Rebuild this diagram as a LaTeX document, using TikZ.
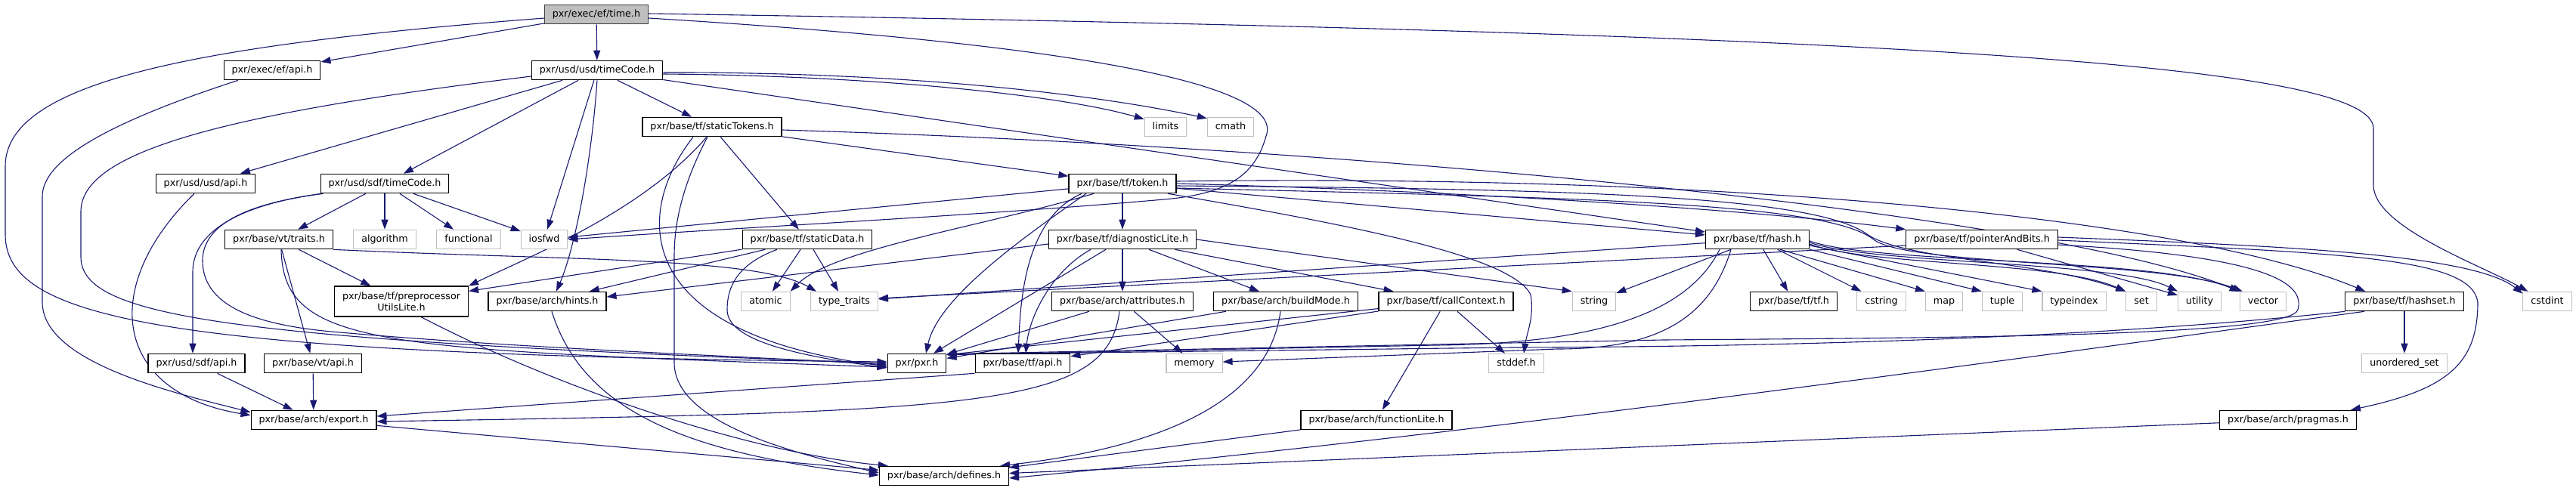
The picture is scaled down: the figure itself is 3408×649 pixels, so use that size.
\documentclass[tikz,border=0pt]{standalone}
\usepackage{fontspec}
\setmainfont{DejaVu Sans}
\usetikzlibrary{arrows.meta}
\pgfdeclarelayer{bg}
\pgfsetlayers{bg,main}
\definecolor{edgecol}{HTML}{191970}
\definecolor{syscol}{HTML}{BFBFBF}
\definecolor{rootfill}{HTML}{BFBFBF}
\definecolor{rootdraw}{HTML}{404040}
\newcommand\gfsz{\fontsize{12.7pt}{15pt}\selectfont}
\begin{document}
\begin{tikzpicture}[x=1pt,y=-1pt,
 base/.style={draw=black, line width=1.1pt, fill=white, font=\gfsz, inner xsep=10.5pt, inner ysep=0pt},
 nd/.style={base, minimum height=25.5pt, text height=9.6pt, text depth=2.7pt},
 sys/.style={nd, draw=syscol},
 rootnd/.style={nd, fill=rootfill, draw=rootdraw},
 inc/.style={draw=edgecol, line width=1.1pt, -{Triangle[length=13pt,width=9pt]}},
]
\useasboundingbox (0,0) rectangle (3408,649);
% nodes
\node[rootnd] (root) at (789,19) {pxr/exec/ef/time.h};
\node[nd] (efapi) at (360,93) {pxr/exec/ef/api.h};
\node[nd] (usdtc) at (790,93) {pxr/usd/usd/timeCode.h};
\node[nd] (sttok) at (942,168) {pxr/base/tf/staticTokens.h};
\node[sys] (limits) at (1542,168) {limits};
\node[sys] (cmath) at (1628,168) {cmath};
\node[nd] (usdapi) at (272,243) {pxr/usd/usd/api.h};
\node[nd] (sdftc) at (509,243) {pxr/usd/sdf/timeCode.h};
\node[nd] (token) at (1485,243) {pxr/base/tf/token.h};
\node[nd] (traits) at (369,317) {pxr/base/vt/traits.h};
\node[sys] (algorithm) at (509,317) {algorithm};
\node[sys] (functional) at (620,317) {functional};
\node[sys] (iosfwd) at (720,317) {iosfwd};
\node[nd] (stdata) at (1068,317) {pxr/base/tf/staticData.h};
\node[nd] (diag) at (1485,317) {pxr/base/tf/diagnosticLite.h};
\node[nd] (hash) at (2325,317) {pxr/base/tf/hash.h};
\node[nd] (pab) at (2622,317) {pxr/base/tf/pointerAndBits.h};
\node[base, minimum height=40pt, align=center] (pul) at (531,399) {pxr/base/tf/preprocessor\\UtilsLite.h};
\node[nd] (hints) at (724,399) {pxr/base/arch/hints.h};
\node[sys] (atomic) at (1013,399) {atomic};
\node[sys] (typetraits) at (1117,399) {type\_traits};
\node[nd] (attr) at (1485,399) {pxr/base/arch/attributes.h};
\node[nd] (build) at (1701,399) {pxr/base/arch/buildMode.h};
\node[nd] (callctx) at (1913,399) {pxr/base/tf/callContext.h};
\node[sys] (string) at (2109,399) {string};
\node[nd] (tftf) at (2373,399) {pxr/base/tf/tf.h};
\node[sys] (cstring) at (2489,399) {cstring};
\node[sys] (map) at (2572,399) {map};
\node[sys] (tuple) at (2649,399) {tuple};
\node[sys] (typeindex) at (2744,399) {typeindex};
\node[sys] (set) at (2833,399) {set};
\node[sys] (utility) at (2910,399) {utility};
\node[sys] (vector) at (2994,399) {vector};
\node[nd] (hashset) at (3181,399) {pxr/base/tf/hashset.h};
\node[sys] (cstdint) at (3370,399) {cstdint};
\node[nd] (sdfapi) at (260,481) {pxr/usd/sdf/api.h};
\node[nd] (vtapi) at (414,481) {pxr/base/vt/api.h};
\node[nd] (pxrh) at (1213,481) {pxr/pxr.h};
\node[nd] (tfapi) at (1353,481) {pxr/base/tf/api.h};
\node[sys] (memory) at (1580,481) {memory};
\node[sys] (stddef) at (2006,481) {stddef.h};
\node[sys] (unordset) at (3181,481) {unordered\_set};
\node[nd] (export) at (415,556) {pxr/base/arch/export.h};
\node[nd] (funclite) at (1821,556) {pxr/base/arch/functionLite.h};
\node[nd] (pragmas) at (3027,556) {pxr/base/arch/pragmas.h};
\node[nd] (defines) at (1249,630) {pxr/base/arch/defines.h};

\begin{pgfonlayer}{bg}
\fill[white] (0,0) rectangle (3408,649);
% time.h
\draw[inc] (root) -- (efapi);
\draw[inc] (root) -- (usdtc);
\draw[inc] ([yshift=-5pt]root.west) .. controls (250,60) and (7,110) .. (7,220) -- (7,310) .. controls (7,420) and (200,470) .. ([yshift=2pt]pxrh.west);
\draw[inc] ([yshift=-5pt]root.east) .. controls (1450,60) and (1700,115) .. (1675,180) .. controls (1660,235) and (1620,257) .. (1540,264) .. controls (1300,285) and (1000,300) .. (iosfwd.east);
\draw[inc] ([yshift=1pt]root.east) .. controls (2600,45) and (3140,90) .. (3140,170) -- (3140,245) .. controls (3140,300) and (3280,350) .. ([xshift=7pt]cstdint.north west);
% ef/api.h
\draw[inc] ([xshift=-45pt]efapi.south) .. controls (150,160) and (56,210) .. (56,260) -- (56,400) .. controls (56,480) and (230,520) .. ([yshift=-3pt]export.north west);
% usd/timeCode.h
\draw[inc] ([yshift=-8pt]usdtc.west) .. controls (300,150) and (107,200) .. (107,280) -- (107,340) .. controls (107,420) and (300,450) .. (pxrh.west);
\draw[inc] (usdtc) -- (usdapi);
\draw[inc] (usdtc) -- (sdftc);
\draw[inc] (usdtc) -- (iosfwd);
\draw[inc] (usdtc.south) .. controls (782,220) and (760,330) .. ([xshift=12pt]hints.north);
\draw[inc] (usdtc) -- (sttok);
\draw[inc] ([yshift=-5pt]usdtc.east) .. controls (1150,100) and (1400,125) .. ([yshift=-3pt]limits.north west);
\draw[inc] ([yshift=-3pt]usdtc.east) .. controls (1200,95) and (1450,125) .. ([yshift=-2pt]cmath.north west);
\draw[inc] (usdtc) -- (hash);
% staticTokens.h
\draw[inc] ([xshift=-25pt]sttok.south) .. controls (840,280) and (830,440) .. ([yshift=-4pt]pxrh.west);
\draw[inc] ([xshift=-7pt]sttok.south) .. controls (850,280) and (700,340) .. (pul.north east);
\draw[inc] ([xshift=-6pt]sttok.south) .. controls (900,250) and (892,300) .. (892,340) -- (892,480) .. controls (892,560) and (1050,600) .. ([yshift=4pt]defines.west);
\draw[inc] (sttok) -- (stdata);
\draw[inc] (sttok) -- (token);
\draw[inc] ([yshift=-4pt]sttok.east) .. controls (1800,195) and (2700,280) .. (vector.north west);
% usd/api.h, sdf/timeCode.h
\draw[inc] ([xshift=-15pt]usdapi.south) .. controls (130,380) and (150,520) .. ([yshift=-7pt]export.north west);
\draw[inc] ([xshift=2pt]sdftc.south west) .. controls (310,272) and (255,310) .. (255,360) -- ([xshift=-5pt]sdfapi.north);
\draw[inc] ([xshift=4pt]sdftc.south west) .. controls (320,270) and (268,300) .. (268,345) .. controls (268,410) and (350,432) .. (450,440) .. controls (700,462) and (1000,472) .. ([yshift=-2pt]pxrh.west);
\draw[inc] (sdftc) -- (traits);
\draw[inc] (sdftc) -- (algorithm);
\draw[inc] (sdftc) -- (functional);
\draw[inc] (sdftc) -- (iosfwd);
% vt/traits.h
\draw[inc] (traits) -- (pul);
\draw[inc] (traits) -- (vtapi);
\draw[inc] ([xshift=3pt]traits.south) .. controls (375,460) and (500,462) .. ([yshift=-5pt]pxrh.west);
\draw[inc] (traits.south east) .. controls (750,345) and (1000,340) .. ([xshift=8pt]typetraits.north west);
% api headers, arch
\draw[inc] (sdfapi) -- (export);
\draw[inc] (vtapi) -- (export);
\draw[inc] ([xshift=26pt]pul.south) .. controls (750,520) and (1000,600) .. ([xshift=12pt]defines.north west);
\draw[inc] ([xshift=6pt]hints.south) .. controls (770,540) and (900,600) .. ([yshift=1pt]defines.west);
\draw[inc] (export) -- (defines);
% staticData.h
\draw[inc] (stdata) -- (pul);
\draw[inc] (stdata) -- (hints);
\draw[inc] ([xshift=-40pt]stdata.south) .. controls (975,350) and (962,380) .. (962,410) .. controls (962,450) and (1050,470) .. ([yshift=-6pt]pxrh.west);
\draw[inc] (stdata) -- (atomic);
\draw[inc] (stdata) -- (typetraits);
% token.h
\draw[inc] (token) -- (iosfwd);
\draw[inc] ([xshift=-38pt]token.south) .. controls (1300,300) and (1100,330) .. (atomic.north east);
\draw[inc] ([xshift=-48pt]token.south) .. controls (1330,330) and (1240,400) .. ([xshift=12pt]pxrh.north);
\draw[inc] ([xshift=-54pt]token.south) .. controls (1355,290) and (1350,400) .. ([xshift=-6pt]tfapi.north);
\draw[inc] (token) -- (diag);
\draw[inc] ([xshift=60pt]token.south) .. controls (1800,300) and (2000,340) .. (2025,390) .. controls (2030,420) and (2020,440) .. ([xshift=10pt]stddef.north);
\draw[inc] (token) -- (hash);
\draw[inc] (token.east) .. controls (1900,252) and (2300,275) .. (pab.north west);
\draw[inc] ([yshift=3pt]token.east) .. controls (2300,230) and (2900,290) .. ([xshift=27pt]hashset.north west);
\draw[inc] ([yshift=-3pt]token.east) .. controls (2100,250) and (2400,260) .. (2470,310) .. controls (2520,345) and (2700,345) .. (set.north west);
\draw[inc] ([yshift=-6pt]token.east) .. controls (2100,262) and (2420,268) .. (2480,318) .. controls (2530,352) and (2860,345) .. ([xshift=4pt]vector.north west);
% diagnosticLite.h
\draw[inc] (diag) -- (pxrh);
\draw[inc] ([xshift=-42pt]diag.south) .. controls (1390,360) and (1362,420) .. ([xshift=4pt]tfapi.north);
\draw[inc] (diag) -- (attr);
\draw[inc] (diag) -- (build);
\draw[inc] (diag) -- (callctx);
\draw[inc] (diag.east) -- (string.north west);
\draw[inc] ([yshift=-6pt]diag.west) -- ([yshift=6pt]hints.east);
% attributes, buildMode, callContext
\draw[inc] (attr) -- (pxrh);
\draw[inc] (attr) -- (memory);
\draw[inc] ([xshift=-4pt]attr.south) .. controls (1465,540) and (1300,545) .. ([yshift=-2pt]export.east);
\draw[inc] (tfapi.south west) -- ([yshift=5pt]export.east);
\draw[inc] (build) -- (pxrh);
\draw[inc] ([xshift=-7pt]build.south) .. controls (1680,520) and (1560,590) .. ([xshift=-12pt]defines.north east);
\draw[inc] (callctx) -- ([yshift=-2pt]pxrh.north east);
\draw[inc] (callctx) -- (tfapi);
\draw[inc] (callctx) -- (funclite);
\draw[inc] (callctx) -- (stddef);
\draw[inc] (funclite) -- (defines);
% hash.h
\draw[inc] (hash) -- (tftf);
\draw[inc] (hash) -- (cstring);
\draw[inc] ([xshift=30pt]hash.south) -- (map.north west);
\draw[inc] (hash.south east) -- (tuple.north west);
\draw[inc] ([yshift=-8pt]hash.east) -- (typeindex.north west);
\draw[inc] ([yshift=-6pt]hash.east) .. controls (2470,352) and (2720,345) .. (set.north west);
\draw[inc] ([yshift=-4pt]hash.east) .. controls (2475,350) and (2800,345) .. (utility.north west);
\draw[inc] ([yshift=-2pt]hash.east) .. controls (2480,350) and (2850,340) .. (vector.north west);
\draw[inc] (hash) -- (string);
\draw[inc] (hash) -- (typetraits);
\draw[inc] ([xshift=-50pt]hash.south) .. controls (2230,420) and (2100,455) .. (1900,457) -- ([yshift=-2pt]pxrh.north east);
\draw[inc] ([xshift=-35pt]hash.south) .. controls (2260,430) and (2180,462) .. (2060,462) -- ([yshift=2pt]memory.east);
% pointerAndBits.h
\draw[inc] ([yshift=-8pt]pab.west) -- ([yshift=4pt]typetraits.east);
\draw[inc] (pab) -- (utility);
\draw[inc] ([yshift=3pt]pab.east) .. controls (3000,325) and (3270,335) .. ([yshift=-3pt]cstdint.north west);
\draw[inc] ([yshift=-1pt]pab.east) .. controls (3100,335) and (3270,340) .. (3278,400) .. controls (3278,480) and (3240,515) .. ([xshift=-8pt]pragmas.north east);
\draw[inc] ([yshift=-7pt]pab.east) .. controls (3020,340) and (3048,380) .. (3040,410) .. controls (3030,445) and (2600,447) .. (2200,450) -- ([yshift=-1pt]pxrh.north east);
% hashset.h
\draw[inc] (hashset.south west) .. controls (2800,445) and (2400,459) .. (2000,460) -- ([yshift=-1.5pt]pxrh.north east);
\draw[inc] ([xshift=-53pt]hashset.south) .. controls (2700,470) and (2000,570) .. ([yshift=-3pt]defines.east);
\draw[inc] (hashset) -- (unordset);
\draw[inc] (pragmas) -- (defines);
\end{pgfonlayer}
\end{tikzpicture}
\end{document}
